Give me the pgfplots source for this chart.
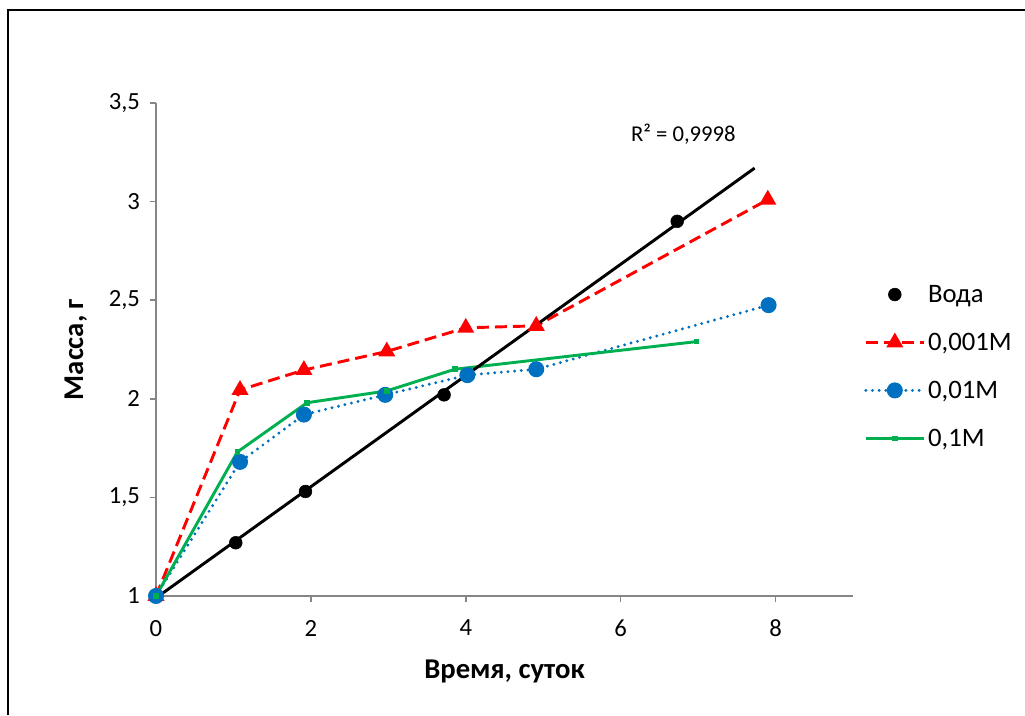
\documentclass[border=0pt]{standalone}
\usepackage{fontspec}
\setmainfont{Carlito}
\usepackage{pgfplots}
\pgfplotsset{compat=1.18}
\definecolor{axgray}{RGB}{134,134,134}
\definecolor{sred}{RGB}{255,0,0}
\definecolor{sblue}{RGB}{0,112,192}
\definecolor{sgreen}{RGB}{0,176,80}
\newcommand\tkfont{\fontsize{18.5}{22}\selectfont}
\begin{document}
\begin{tikzpicture}[x=0.75pt,y=0.75pt]
% page = 1025 x 715 px, axis origin at pixel (156,596)
\useasboundingbox (-156,-119) rectangle (869,596);
\draw[line width=1.5pt] (-148,-119) -- (-148,586) -- (869,586);
\begin{axis}[
  at={(0,0)}, anchor=south west,
  scale only axis,
  width=522.75pt, height=369.75pt,
  xmin=0, xmax=9, ymin=1, ymax=3.5,
  xtick={0,2,4,6,8}, ytick={1,1.5,2,2.5,3,3.5},
  xticklabels={{\tkfont 0},{\tkfont 2},{\tkfont 4},{\tkfont 6},{\tkfont 8}},
  yticklabels={{\tkfont 1},{\tkfont 1,5},{\tkfont 2},{\tkfont 2,5},{\tkfont 3},{\tkfont 3,5}},
  axis lines*=left,
  axis line style={axgray, line width=1.1pt},
  tick style={axgray, line width=1.1pt},
  tick align=outside, major tick length=4.5pt,
  yticklabel style={xshift=-4pt},
  xticklabel style={yshift=-10pt},
  xlabel={Время, суток},
  ylabel={Масса, г},
  label style={font=\fontsize{21.5}{25}\selectfont\bfseries},
  xlabel style={at={(axis description cs:0.5,-0.154)}, anchor=center},
  ylabel style={at={(axis description cs:-0.115,0.5)}, anchor=center},
  clip=false,
  legend cell align=left,
  legend style={at={(1.01,0.4655)}, anchor=west, draw=none, fill=none,
    row sep=17.5pt, font=\fontsize{20}{23}\selectfont},
  legend image code/.code={
    \draw[mark repeat=2,mark phase=2] plot coordinates {(0pt,0pt) (21.75pt,0pt) (43.5pt,0pt)};},
]
% Вода
\addplot[only marks, mark=*, mark size=4.8pt, black] coordinates {
  (0,1) (1.03,1.27) (1.93,1.53) (3.72,2.02) (6.73,2.90)};
\addlegendentry{Вода}
% 0,001M
\addplot[sred, line width=2.2pt, dash pattern=on 9pt off 4.5pt,
  mark=triangle*, mark size=5.2pt, mark options={solid}] coordinates {
  (0,1) (1.085,2.045) (1.91,2.146) (2.98,2.24) (4.0,2.36) (4.91,2.37) (7.9,3.01)};
\addlegendentry{0,001M}
% 0,01M
\addplot[sblue, line width=2.4pt, line cap=round, dash pattern=on 0pt off 5pt,
  mark=*, mark size=4.8pt, mark options={solid}] coordinates {
  (0,1) (1.085,1.68) (1.91,1.92) (2.96,2.02) (4.02,2.12) (4.91,2.15) (7.91,2.475)};
\addlegendentry{0,01M}
% 0,1M
\addplot[sgreen, line width=2.2pt, mark=square*, mark size=1pt,
  mark options={fill=sgreen!55!white, draw=none}] coordinates {
  (0,1) (1.05,1.73) (1.95,1.98) (2.98,2.04) (3.86,2.15) (6.98,2.29)};
\addlegendentry{0,1M}
% linear trend for Вода
\addplot[black, line width=2.2pt, forget plot] coordinates {(0,0.99) (7.73,3.17)};
\node[font=\fontsize{17}{20}\selectfont] at (axis cs:6.81,3.34) {R² = 0,9998};
\end{axis}
\end{tikzpicture}
\end{document}
